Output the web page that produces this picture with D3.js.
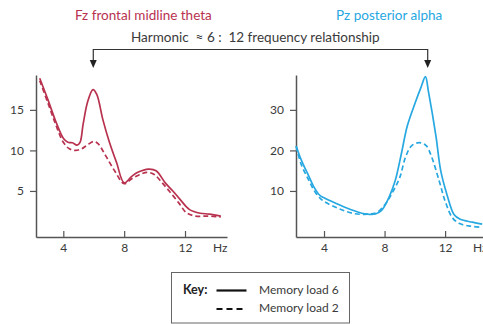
<!DOCTYPE html>
<html>
<head>
<meta charset="utf-8">
<script src="https://cdn.jsdelivr.net/npm/d3@7"></script>
<style>
  html, body { margin: 0; padding: 0; background: #fff; }
  svg { display: block; }
  text { font-family: Lato, "Noto Sans", sans-serif; }
</style>
</head>
<body>
<svg id="chart" width="483" height="324"></svg>
<script>
// Spectral power by frequency (Hz, power) for two electrode sites and two memory loads
const fzLoad6 = [
  [2.45, 18.9], [3.0, 16.2], [3.5, 13.6], [4.0, 11.5], [4.3, 11.0], [4.6, 10.95],
  [4.9, 10.65], [5.1, 11.0], [5.3, 13.2], [5.6, 16.0], [5.95, 17.5], [6.2, 16.9],
  [6.6, 13.8], [7.0, 11.2], [7.5, 8.5], [8.0, 6.0], [8.5, 6.8], [8.9, 7.3],
  [9.6, 7.7], [10.1, 7.5], [10.7, 6.0], [11.2, 5.0], [11.7, 3.9], [12.3, 2.7],
  [13.0, 2.25], [13.6, 2.15], [14.35, 1.9]
];
const fzLoad2 = [
  [2.45, 18.6], [3.0, 15.8], [3.5, 13.2], [4.0, 11.0], [4.4, 10.2], [4.8, 10.0],
  [5.2, 10.2], [5.6, 10.7], [6.0, 11.1], [6.3, 10.8], [6.8, 9.3], [7.4, 7.4],
  [8.0, 5.9], [8.5, 6.5], [9.0, 7.0], [9.5, 7.3], [10.0, 7.0], [10.5, 6.0],
  [11.0, 4.9], [11.6, 3.5], [12.1, 2.3], [12.7, 1.9], [13.5, 1.9], [14.35, 1.8]
];
const pzLoad6 = [
  [2.16, 21.1], [2.5, 17.6], [3.0, 13.6], [3.3, 11.2], [3.7, 9.0], [4.0, 8.3],
  [5.0, 6.6], [5.5, 5.8], [6.0, 5.1], [6.5, 4.5], [7.0, 4.2], [7.4, 4.3],
  [7.8, 5.2], [8.3, 8.5], [8.7, 12.5], [9.1, 19.0], [9.5, 26.0], [10.0, 31.5],
  [10.4, 35.5], [10.7, 38.2], [10.9, 34.5], [11.4, 23.4], [11.7, 15.2], [12.1, 9.4],
  [12.6, 4.1], [13.0, 3.0], [13.8, 2.3], [14.45, 1.8]
];
const pzLoad2 = [
  [2.16, 21.0], [2.5, 16.5], [3.0, 12.6], [3.4, 9.8], [3.8, 8.0], [4.2, 7.0],
  [5.0, 5.6], [6.0, 4.4], [7.0, 4.3], [7.5, 4.7], [8.0, 6.5], [8.5, 9.5],
  [9.0, 13.3], [9.4, 18.5], [9.8, 21.2], [10.3, 21.9], [10.75, 21.2], [11.1, 18.5],
  [11.6, 12.6], [12.0, 7.5], [12.5, 3.3], [13.0, 1.9], [13.7, 1.3], [14.45, 1.0]
];

const freqTicks = [4, 8, 12];
const fzTicks = [5, 10, 15];
const pzTicks = [10, 20, 30];
const arrowHz = [5.97, 10.85];

const titleFz = "Fz frontal midline theta";
const titlePz = "Pz posterior alpha";
const headline = "Harmonic  \u2248 6 :  12 frequency relationship";
const legendLabels = ["Memory load 6", "Memory load 2"];

const colFz = "#b8324f";
const colPz = "#27a8e1";
const axisCol = "#555";
const textCol = "#3a3a3a";

const svg = d3.select("#chart");

// Scales for the two panels
const xFz = d3.scaleLinear().domain([2.205, 14.76]).range([36, 227]);
const yFz = d3.scaleLinear().domain([-0.68, 19.3]).range([237, 75]);
const xPz = d3.scaleLinear().domain([2.149, 14.9]).range([296, 489]);
const yPz = d3.scaleLinear().domain([-1.36, 38.6]).range([237, 75]);

function panel(x, y, yTicks, series, colour, hzX) {
  const g = svg.append("g");
  const yAx = g.append("g")
    .attr("transform", `translate(${x.range()[0]},0)`)
    .call(d3.axisLeft(y).tickValues(yTicks).tickSizeInner(6).tickSizeOuter(0).tickPadding(6));
  const xAx = g.append("g")
    .attr("transform", `translate(0,${y.range()[0]})`)
    .call(d3.axisBottom(x).tickValues(freqTicks).tickSizeInner(-6).tickSizeOuter(0).tickPadding(6));
  [yAx, xAx].forEach(a => {
    a.select(".domain").attr("stroke", axisCol).attr("stroke-width", 1.5);
    a.selectAll(".tick line").attr("stroke", axisCol).attr("stroke-width", 1.2);
    a.selectAll(".tick text").attr("fill", textCol).style("font-size", "12px")
      .style("font-family", "Lato, 'Noto Sans', sans-serif");
  });
  xAx.append("text")
    .attr("x", hzX).attr("y", 6).attr("dy", "0.71em")
    .attr("text-anchor", "start").attr("fill", textCol)
    .style("font-size", "12px").text("Hz");

  const line = d3.line().x(d => x(d[0])).y(d => y(d[1])).curve(d3.curveCatmullRom.alpha(0.5));
  series.forEach((s, i) => {
    g.append("path").datum(s)
      .attr("d", line)
      .attr("fill", "none")
      .attr("stroke", colour)
      .attr("stroke-width", 1.7)
      .attr("stroke-linejoin", "round")
      .attr("stroke-dasharray", i === 1 ? "5,3" : null);
  });
}

panel(xFz, yFz, fzTicks, [fzLoad6, fzLoad2], colFz, 213);
panel(xPz, yPz, pzTicks, [pzLoad6, pzLoad2], colPz, 473);

// Titles
svg.append("text").attr("x", 75).attr("y", 15).attr("dy", "0.35em")
  .attr("fill", colFz).style("font-size", "13.5px").text(titleFz);
svg.append("text").attr("x", 336).attr("y", 15).attr("dy", "0.35em")
  .attr("fill", colPz).style("font-size", "13.5px").text(titlePz);
svg.append("text").attr("x", 131).attr("y", 37.5).attr("dy", "0.35em")
  .attr("fill", textCol).style("font-size", "13.5px").style("white-space", "pre")
  .text(headline);

// Bracket linking the two peaks
const ax1 = xFz(arrowHz[0]), ax2 = xPz(arrowHz[1]);
const by = 49.5, tipY = 68;
svg.append("path")
  .attr("d", `M${ax1},${tipY - 6} V${by} H${ax2} V${tipY - 6}`)
  .attr("fill", "none").attr("stroke", "#333").attr("stroke-width", 1.2);
[ax1, ax2].forEach(ax => {
  svg.append("path")
    .attr("d", `M${ax - 3.5},${tipY - 8} L${ax + 3.5},${tipY - 8} L${ax},${tipY} Z`)
    .attr("fill", "#222");
});

// Key box
const lg = svg.append("g");
lg.append("rect").attr("x", 171.5).attr("y", 272.5).attr("width", 178).attr("height", 50.5)
  .attr("fill", "#fff").attr("stroke", "#666").attr("stroke-width", 1);
lg.append("text").attr("x", 183).attr("y", 289.5).attr("dy", "0.35em")
  .attr("fill", "#222").style("font-size", "12.5px").style("font-weight", "bold").text("Key:");
legendLabels.forEach((lab, i) => {
  const ly = 289.5 + i * 18.5;
  lg.append("line").attr("x1", 216.5).attr("x2", 246.5)
    .attr("y1", ly + 1).attr("y2", ly + 1)
    .attr("stroke", "#111").attr("stroke-width", i === 0 ? 2.2 : 2)
    .attr("stroke-dasharray", i === 1 ? "6,4" : null);
  lg.append("text").attr("x", 259).attr("y", ly).attr("dy", "0.35em")
    .attr("fill", textCol).style("font-size", "12px").text(lab);
});
</script>
</body>
</html>
